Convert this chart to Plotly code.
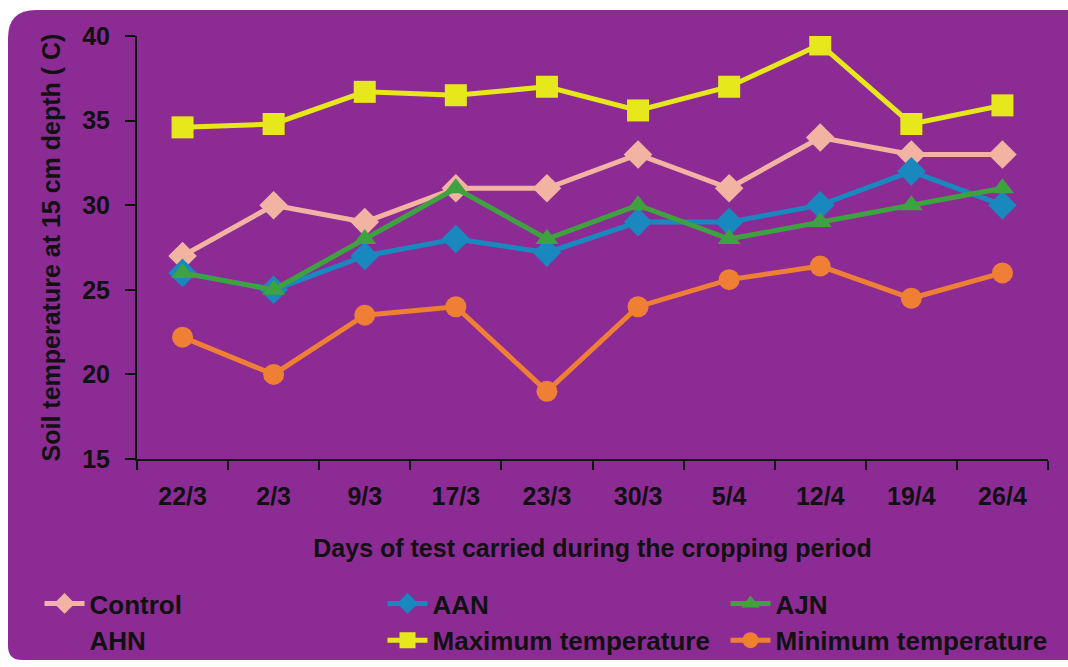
import plotly.graph_objects as go

# Sampling dates along the cropping period
dates = ["22/3", "2/3", "9/3", "17/3", "23/3", "30/3", "5/4", "12/4", "19/4", "26/4"]

# Soil temperature at 15 cm depth (°C) per treatment
control = [27.0, 30.0, 29.0, 31.0, 31.0, 33.0, 31.0, 34.0, 33.0, 33.0]
aan = [26.0, 25.0, 27.0, 28.0, 27.2, 29.0, 29.0, 30.0, 32.0, 30.0]
ajn = [26.0, 25.0, 28.0, 31.0, 28.0, 30.0, 28.0, 29.0, 30.0, 31.0]
ahn = [None] * 10
max_temp = [34.6, 34.8, 36.7, 36.5, 37.0, 35.6, 37.0, 39.5, 34.8, 35.9]
min_temp = [22.2, 20.0, 23.5, 24.0, 19.0, 24.0, 25.6, 26.4, 24.5, 26.0]

BG = "#8D2B95"
FONT = "Liberation Sans, Arial, sans-serif"
INK = "#111111"

fig = go.Figure()


def add_series(name, values, color, symbol, size):
    fig.add_trace(go.Scatter(
        x=dates, y=values, name=name, mode="lines+markers",
        line=dict(color=color, width=5),
        marker=dict(color=color, symbol=symbol, size=size,
                    line=dict(width=0)),
    ))


add_series("Control", control, "#F3B3A2", "diamond", 22)
add_series("AAN", aan, "#1888BE", "diamond", 22)
add_series("AJN", ajn, "#3DA23F", "triangle-up", 20)
fig.add_trace(go.Scatter(x=dates, y=ahn, name="AHN", mode="lines",
                         line=dict(color="rgba(0,0,0,0)", width=0)))
add_series("Maximum temperature", max_temp, "#E6E81C", "square", 22)
add_series("Minimum temperature", min_temp, "#EE7F35", "circle", 21)

# Rounded purple panel over a white page
L, T, R, B = 137, 36, 1048, 459
W, H = R - L, B - T


def px(x):
    return (x - L) / W


def py(y):
    return (B - y) / H


x0, y0, x1, y1, r = 8, 10, 1090, 660, 28
card = (f"M {px(x0)},{py(y0 + r)} Q {px(x0)},{py(y0)} {px(x0 + r)},{py(y0)} "
        f"L {px(x1)},{py(y0)} L {px(x1)},{py(y1)} "
        f"L {px(x0 + 14)},{py(y1)} Q {px(x0)},{py(y1)} {px(x0)},{py(y1 - 14)} Z")

bold = dict(family=FONT, size=25, color=INK, weight="bold")
legend_font = dict(family=FONT, size=26, color=INK, weight="bold")

fig.update_layout(
    width=1068, height=667,
    margin=dict(l=L, r=1068 - R, t=T, b=667 - B, autoexpand=False),
    paper_bgcolor="#FFFFFF",
    plot_bgcolor="rgba(0,0,0,0)",
    font=bold,
    shapes=[dict(type="path", path=card, xref="paper", yref="paper",
                 fillcolor=BG, line=dict(width=0), layer="below")],
    showlegend=True,
    legend=dict(
        orientation="h", x=-0.107, xanchor="left", y=-0.286, yanchor="top",
        entrywidth=288, entrywidthmode="pixels",
        font=legend_font, bgcolor="rgba(0,0,0,0)", traceorder="normal",
        itemwidth=40, tracegroupgap=0,
    ),
    xaxis=dict(
        type="category", range=[-0.5, 9.5],
        showline=True, linecolor=INK, linewidth=2,
        ticks="outside", tickson="boundaries", ticklen=9, tickwidth=2,
        tickcolor=INK, showgrid=False, zeroline=False,
        ticklabelstandoff=14, tickfont=bold,
        title=dict(text="Days of test carried during the cropping period",
                   font=bold, standoff=30),
    ),
    yaxis=dict(
        range=[15, 40], tickvals=[15, 20, 25, 30, 35, 40],
        showline=True, linecolor=INK, linewidth=2,
        ticks="outside", ticklen=10, tickwidth=2, tickcolor=INK,
        showgrid=False, zeroline=False,
        ticklabelstandoff=10, tickfont=bold,
        title=dict(text="Soil temperature at 15 cm depth ( C)",
                   font=bold, standoff=14),
    ),
)

fig.write_html("out.html")
